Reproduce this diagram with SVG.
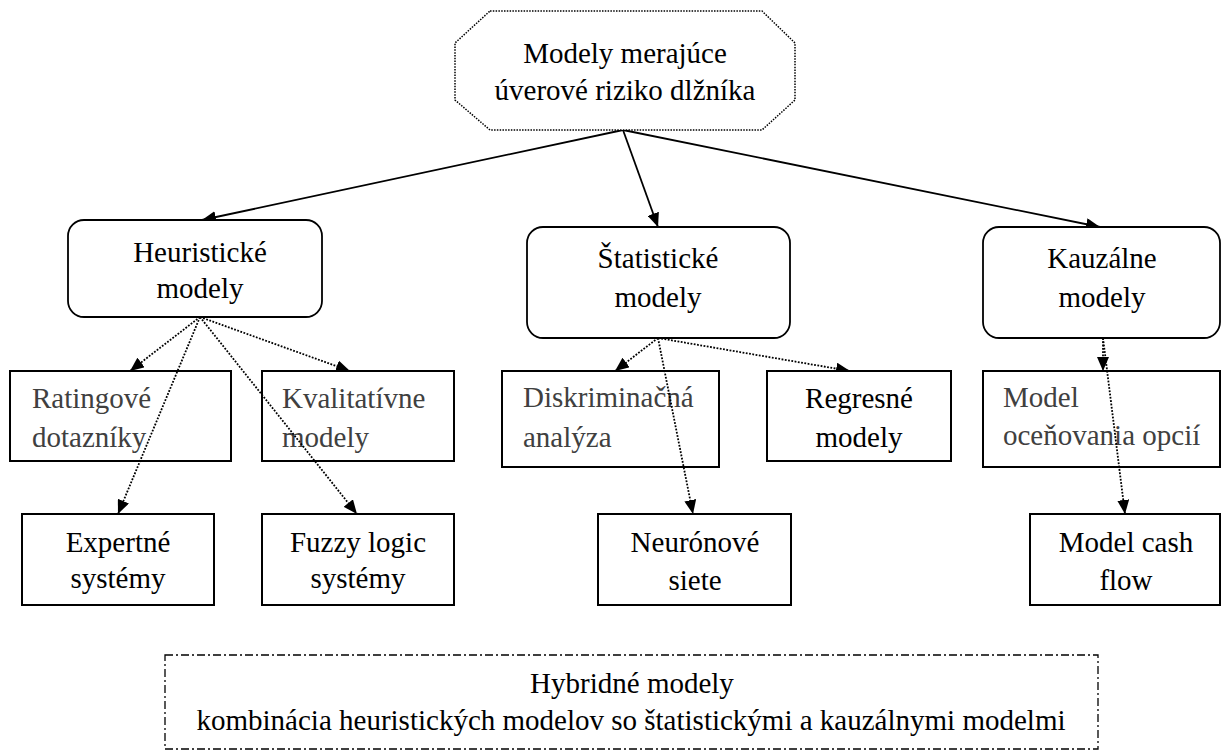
<svg xmlns="http://www.w3.org/2000/svg" width="1221" height="751" viewBox="0 0 1221 751" font-family="'Liberation Serif', 'Times New Roman', serif">
<defs>
<style>
text{font-family:'Liberation Serif','Times New Roman',serif;font-size:29px;fill:#000}
.g{fill:#404040}
.c{text-anchor:middle}
.rbox{fill:#fff;stroke:#000;stroke-width:1.8}
.box{fill:#fff;stroke:#000;stroke-width:2}
.solid{stroke:#000;stroke-width:1.8;fill:none}
.dot{stroke:#000;stroke-width:1.8;fill:none;stroke-dasharray:1.8 1.5}
</style>
<marker id="ah" markerWidth="14" markerHeight="12" refX="14" refY="6" orient="auto" markerUnits="userSpaceOnUse">
<path d="M0,0 L14,6 L0,12 z" fill="#000"/>
</marker>
</defs>
<rect width="1221" height="751" fill="#fff"/>

<g id="connectors">
<line class="solid" x1="623" y1="130" x2="202" y2="220" marker-end="url(#ah)"/>
<line class="solid" x1="623" y1="130" x2="658" y2="227" marker-end="url(#ah)"/>
<line class="solid" x1="623" y1="130" x2="1100" y2="227" marker-end="url(#ah)"/>
<line class="dot" x1="200" y1="317" x2="130" y2="371" marker-end="url(#ah)"/>
<line class="dot" x1="200" y1="317" x2="350" y2="371" marker-end="url(#ah)"/>
<line class="dot" x1="658" y1="338" x2="615" y2="371" marker-end="url(#ah)"/>
<line class="dot" x1="658" y1="338" x2="850" y2="371" marker-end="url(#ah)"/>
<line class="dot" x1="1103" y1="338" x2="1103" y2="371" marker-end="url(#ah)"/>
</g>

<g id="root">
<polygon points="490,11 762,11 795,43 795,100 762,130 490,130 455,100 455,43" fill="#fff" stroke="#000" stroke-width="1.5" stroke-dasharray="1.5 1.3"/>
<text class="c" x="625" y="63">Modely merajúce</text>
<text class="c" x="625" y="100">úverové riziko dlžníka</text>
</g>

<g id="heuristicke">
<rect class="rbox" x="68" y="220" width="254" height="97" rx="16"/>
<text class="c" x="200" y="262">Heuristické</text>
<text class="c" x="200" y="298">modely</text>
</g>
<g id="statisticke">
<rect class="rbox" x="527" y="227" width="263" height="111" rx="16"/>
<text class="c" x="658" y="268">Štatistické</text>
<text class="c" x="658" y="307">modely</text>
</g>
<g id="kauzalne">
<rect class="rbox" x="983" y="227" width="237" height="111" rx="16"/>
<text class="c" x="1102" y="268">Kauzálne</text>
<text class="c" x="1102" y="307">modely</text>
</g>

<g id="ratingove">
<rect class="box" x="10" y="371" width="221" height="90"/>
<text class="g" x="32" y="408">Ratingové</text>
<text class="g" x="32" y="447">dotazníky</text>
</g>
<g id="kvalitativne">
<rect class="box" x="262" y="371" width="192" height="90"/>
<text class="g" x="282" y="408">Kvalitatívne</text>
<text class="g" x="282" y="447">modely</text>
</g>
<g id="diskriminacna">
<rect class="box" x="502" y="371" width="217" height="96"/>
<text class="g" x="523" y="407">Diskriminačná</text>
<text class="g" x="523" y="447">analýza</text>
</g>
<g id="regresne">
<rect class="box" x="767" y="371" width="184" height="90"/>
<text class="c" x="859" y="408">Regresné</text>
<text class="c" x="859" y="447">modely</text>
</g>
<g id="opcie">
<rect class="box" x="983" y="371" width="237" height="96"/>
<text class="g" x="1003" y="407">Model</text>
<text class="g" x="1003" y="445">oceňovania opcií</text>
</g>

<g id="expertne">
<rect class="box" x="22" y="514" width="192" height="91"/>
<text class="c" x="118" y="552">Expertné</text>
<text class="c" x="118" y="588">systémy</text>
</g>
<g id="fuzzy">
<rect class="box" x="262" y="514" width="192" height="91"/>
<text class="c" x="358" y="552">Fuzzy logic</text>
<text class="c" x="358" y="588">systémy</text>
</g>
<g id="neuronove">
<rect class="box" x="598" y="514" width="193" height="91"/>
<text class="c" x="695" y="552">Neurónové</text>
<text class="c" x="695" y="590">siete</text>
</g>
<g id="cashflow">
<rect class="box" x="1030" y="514" width="190" height="91"/>
<text class="c" x="1126" y="552">Model cash</text>
<text class="c" x="1126" y="590">flow</text>
</g>

<g id="connectors-over">
<line class="dot" x1="200" y1="317" x2="118" y2="514" marker-end="url(#ah)"/>
<line class="dot" x1="200" y1="317" x2="357" y2="514" marker-end="url(#ah)"/>
<line class="dot" x1="658" y1="338" x2="693" y2="514" marker-end="url(#ah)"/>
<line class="dot" x1="1103" y1="338" x2="1125" y2="514" marker-end="url(#ah)"/>
</g>

<g id="hybridne">
<rect x="165" y="655" width="933" height="94" fill="none" stroke="#000" stroke-width="1.3" stroke-dasharray="8 3 2 3"/>
<text class="c" x="632" y="693">Hybridné modely</text>
<text class="c" x="631" y="730">kombinácia heuristických modelov so štatistickými a kauzálnymi modelmi</text>
</g>
</svg>
